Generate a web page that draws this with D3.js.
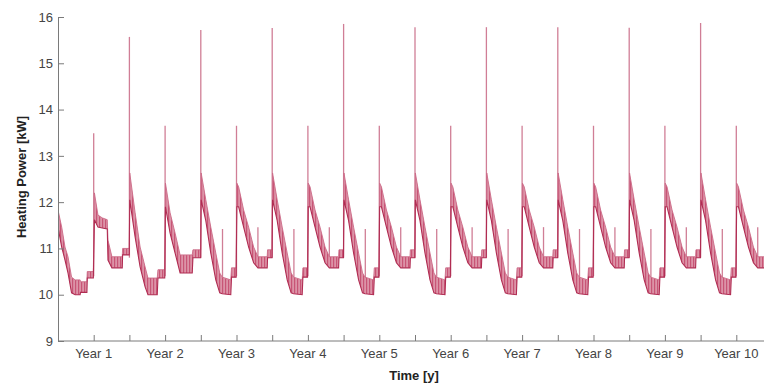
<!DOCTYPE html>
<html>
<head>
<meta charset="utf-8">
<script src="https://cdn.jsdelivr.net/npm/d3@7"></script>
<style>
  html, body { margin: 0; padding: 0; background: #fff; }
  svg { display: block; font-family: "Liberation Sans", Arial, sans-serif; }
</style>
</head>
<body>
<svg id="chart" width="764" height="385"></svg>
<script>
// ---------- data ----------
const yearLabels = ["Year 1","Year 2","Year 3","Year 4","Year 5","Year 6","Year 7","Year 8","Year 9","Year 10"];
const yTickValues = [9, 10, 11, 12, 13, 14, 15, 16];

// band profile within a year: [fraction of year, upper kW, lower kW]
const profileYear1 = [
  [0.000, 11.83, 11.46], [0.052, 11.46, 11.03], [0.098, 11.03, 10.75],
  [0.140, 10.82, 10.47], [0.190, 10.38, 10.04], [0.240, 10.32, 10.00],
  [0.310, 10.32, 10.00], [0.315, 10.28, 10.05], [0.405, 10.28, 10.05],
  [0.410, 10.50, 10.36], [0.495, 10.50, 10.36],
  [0.510, 12.20, 11.62], [0.560, 11.72, 11.46], [0.620, 11.66, 11.44],
  [0.690, 11.62, 11.42], [0.700, 11.18, 10.75], [0.755, 10.82, 10.58],
  [0.900, 10.82, 10.58], [0.905, 11.00, 10.86], [0.998, 11.00, 10.86]
];
const profileYear2 = [
  [0.005, 12.63, 12.05], [0.080, 11.77, 11.25], [0.150, 11.03, 10.60],
  [0.220, 10.60, 10.17], [0.260, 10.36, 10.00], [0.390, 10.36, 10.00],
  [0.400, 10.54, 10.36], [0.495, 10.54, 10.36],
  [0.505, 12.41, 11.90], [0.570, 11.77, 11.33], [0.640, 11.33, 10.90],
  [0.710, 10.86, 10.47], [0.880, 10.86, 10.47], [0.890, 10.97, 10.80],
  [0.998, 10.97, 10.80]
];
const profileTypical = [
  [0.005, 12.63, 12.05], [0.070, 12.05, 11.60], [0.140, 11.46, 10.90],
  [0.210, 10.90, 10.32], [0.265, 10.47, 10.04], [0.300, 10.38, 10.02],
  [0.420, 10.32, 10.00], [0.430, 10.58, 10.38], [0.495, 10.58, 10.38],
  [0.505, 12.41, 11.90], [0.530, 12.33, 11.90], [0.600, 11.83, 11.46],
  [0.670, 11.46, 11.03], [0.740, 11.03, 10.69], [0.800, 10.82, 10.58],
  [0.930, 10.82, 10.58], [0.935, 10.97, 10.80], [0.998, 10.97, 10.80]
];

// spikes: [time in years, peak kW, base kW]
const startSpike = [[0, 14.2, 11.5]];
const yearEndPeaks = [15.57, 15.72, 15.76, 15.85, 15.78, 15.78, 15.78, 15.77, 15.87];
const midYearPeaks = [13.49, 13.65, 13.65, 13.65, 13.65, 13.65, 13.65, 13.65, 13.65, 13.65];
const smallPeaksEarly = [11.42, 11.42, 11.42, 11.42, 11.42, 11.42, 11.42, 11.42]; // years 3-10, ~0.30 of year
const smallPeaksLate  = [11.46, 11.46, 11.46, 11.46, 11.46, 11.46, 11.46, 11.46]; // years 3-10, ~0.80 of year

// ---------- build series ----------
const band = [];
yearLabels.forEach((_, k) => {
  const prof = k === 0 ? profileYear1 : (k === 1 ? profileYear2 : profileTypical);
  prof.forEach(p => band.push({ t: k + p[0], hi: p[1], lo: p[2] }));
});
const spikes = [];
startSpike.forEach(s => spikes.push({ t: s[0], peak: s[1], base: s[2] }));
yearEndPeaks.forEach((v, i) => spikes.push({ t: i + 1, peak: v, base: 10.8 }));
midYearPeaks.forEach((v, i) => spikes.push({ t: i + 0.5, peak: v, base: 10.4 }));
smallPeaksEarly.forEach((v, i) => spikes.push({ t: i + 2 + 0.304, peak: v, base: 10.1 }));
smallPeaksLate.forEach((v, i) => spikes.push({ t: i + 2 + 0.80, peak: v, base: 10.6 }));

// ---------- drawing ----------
const svg = d3.select("#chart");
const x = d3.scaleLinear().domain([0, 10]).range([58, 772]);
const y = d3.scaleLinear().domain([9, 16]).range([341, 17]);

const defs = svg.append("defs");
const pat = defs.append("pattern").attr("id", "stripes")
  .attr("patternUnits", "userSpaceOnUse").attr("width", 3).attr("height", 4);
pat.append("rect").attr("width", 3).attr("height", 4).attr("fill", "#dc93a7");
pat.append("rect").attr("width", 1.2).attr("height", 4).attr("fill", "#c85576");
defs.append("clipPath").attr("id", "clip").append("rect")
  .attr("x", 58).attr("y", 0).attr("width", 706).attr("height", 341);

const plot = svg.append("g").attr("clip-path", "url(#clip)");

plot.selectAll("line.spike").data(spikes).join("line")
  .attr("class", "spike")
  .attr("x1", d => x(d.t)).attr("x2", d => x(d.t))
  .attr("y1", d => y(d.peak)).attr("y2", d => y(d.base))
  .attr("stroke", "#d07e96").attr("stroke-width", 1.3);

const area = d3.area().x(d => x(d.t)).y0(d => y(d.lo)).y1(d => y(d.hi));
plot.append("path").datum(band).attr("d", area)
  .attr("fill", "url(#stripes)").attr("stroke", "none");
plot.append("path").datum(band)
  .attr("d", d3.line().x(d => x(d.t)).y(d => y(d.hi)))
  .attr("fill", "none").attr("stroke", "#cc6b88").attr("stroke-width", 0.9);
plot.append("path").datum(band)
  .attr("d", d3.line().x(d => x(d.t)).y(d => y(d.lo)))
  .attr("fill", "none").attr("stroke", "#b02c52").attr("stroke-width", 1.1);

// axes
const axisColor = "#7a7a7a";
const xAxis = d3.axisBottom(x)
  .tickValues(d3.range(0, 10.01, 0.5))
  .tickSizeInner(-6).tickSizeOuter(0).tickFormat("");
const gx = svg.append("g").attr("transform", "translate(0,341)").call(xAxis);
gx.select(".domain").attr("stroke", axisColor).attr("d", "M58,0H764");
gx.selectAll(".tick line").attr("stroke", axisColor);

svg.append("g").selectAll("text").data(yearLabels).join("text")
  .attr("x", (d, i) => x(i + 0.5)).attr("y", 358)
  .attr("text-anchor", "middle").attr("font-size", 13).attr("fill", "#444")
  .text(d => d);

const yAxis = d3.axisLeft(y).tickValues(yTickValues)
  .tickSizeInner(-6).tickSizeOuter(0).tickPadding(5).tickFormat(d3.format("d"));
const gy = svg.append("g").attr("transform", "translate(58,0)").call(yAxis);
gy.select(".domain").attr("stroke", axisColor);
gy.selectAll(".tick line").attr("stroke", axisColor);
gy.selectAll(".tick text").attr("font-size", 13).attr("fill", "#444")
  .attr("font-family", "Liberation Sans, Arial, sans-serif").attr("x", -5);

svg.append("text").attr("x", 414).attr("y", 380).attr("text-anchor", "middle")
  .attr("font-size", 13).attr("font-weight", "bold").attr("fill", "#222").text("Time [y]");
svg.append("text").attr("transform", "translate(26,177) rotate(-90)")
  .attr("text-anchor", "middle").attr("font-size", 13).attr("font-weight", "bold")
  .attr("fill", "#222").text("Heating Power [kW]");
</script>
</body>
</html>
